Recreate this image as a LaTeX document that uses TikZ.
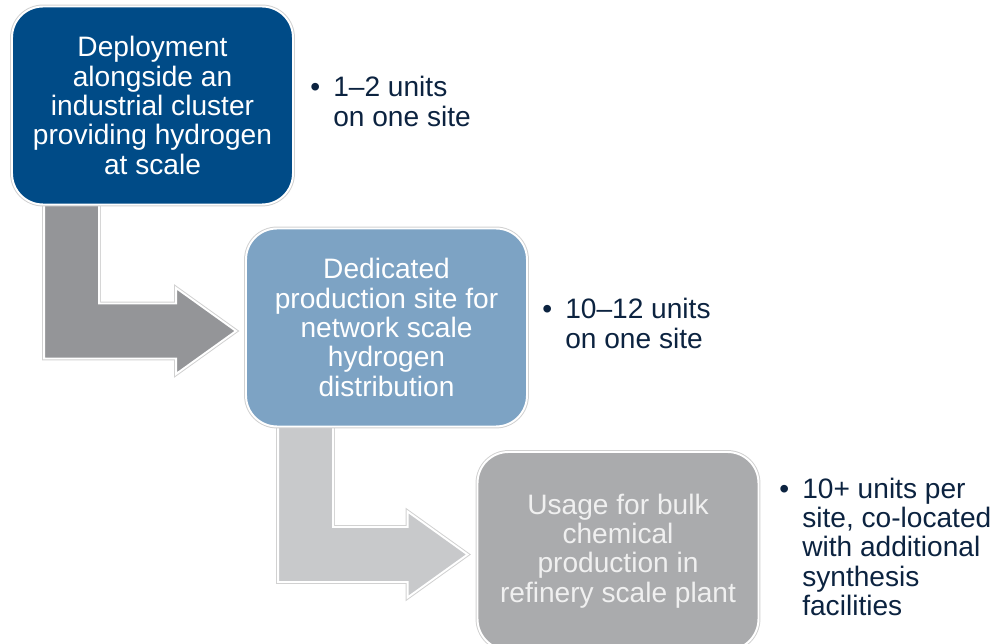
\documentclass[tikz,border=0pt]{standalone}
\usepackage{fontspec}
\setmainfont{Liberation Sans}
\usetikzlibrary{positioning,calc,backgrounds}
\definecolor{stepnavy}{RGB}{0,75,135}
\definecolor{stepsteel}{RGB}{125,163,196}
\definecolor{stepgrey}{RGB}{170,171,173}
\definecolor{arrowdark}{RGB}{148,149,152}
\definecolor{arrowlight}{RGB}{200,201,203}
\definecolor{notetext}{RGB}{12,35,64}
\definecolor{paletext}{RGB}{240,240,240}
\newcommand{\stagefont}{\fontsize{16}{16.7}\selectfont}
\newcommand{\itemdot}{\makebox[0.46cm][l]{\textbullet}}
% bent block arrow from the foot of one box into the side of the next
\newcommand{\bendarrow}[3]{%
  \filldraw[rim,fill=#3]
    ($(#1.south west)+(33,-4)$) |- ($(#2.west)+(-69,31)$)
    -- ($(#2.west)+(-69,46.5)$)
    -- ($(#2.west)+(-9,3.5)$)
    -- ($(#2.west)+(-69,-39.5)$)
    -- ($(#2.west)+(-69,-24)$)
    -| ($(#1.south west)+(88,-4)$)
    -- cycle;
}

\begin{document}
\begin{tikzpicture}[x=0.02cm,y=-0.02cm,
    rim/.style={draw=white,line width=1.1pt,
      preaction={draw=black!18,line width=2.2pt}},
    stage/.style={rim,rounded corners=0.62cm,minimum width=5.62cm,
      minimum height=3.96cm,align=center,text=white,font=\stagefont},
    note/.style={anchor=west,inner sep=0pt,text=notetext,font=\stagefont}]
  \useasboundingbox (0,0) rectangle (992,644);

  % three stages
  \node[stage,fill=stepnavy] (deploy) at (152.5,105.5)
    {Deployment\\alongside an\\industrial cluster\\providing hydrogen\\at scale};
  \node[stage,fill=stepsteel] (network) at (386.5,327.5)
    {Dedicated\\production site for\\network scale\\hydrogen\\distribution};
  \node[stage,fill=stepgrey,text=paletext] (bulk) at (618,551)
    {Usage for bulk\\chemical\\production in\\refinery scale plant};

  % unit counts
  \node[note,right=0.32cm of deploy] (deploynote)
    {\begin{tabular}{@{}l@{}l@{}}\itemdot & 1--2 units\\ & on one site\end{tabular}};
  \node[note,right=0.28cm of network] (networknote)
    {\begin{tabular}{@{}l@{}l@{}}\itemdot & 10--12 units\\ & on one site\end{tabular}};
  \node[note,right=0.39cm of bulk] (bulknote)
    {\begin{tabular}{@{}l@{}l@{}}\itemdot & 10+ units per\\ & site, co-located\\
      & with additional\\ & synthesis\\ & facilities\end{tabular}};

  % arrows
  \begin{scope}[on background layer]
    \bendarrow{deploy}{network}{arrowdark}
    \bendarrow{network}{bulk}{arrowlight}
  \end{scope}
\end{tikzpicture}
\end{document}
